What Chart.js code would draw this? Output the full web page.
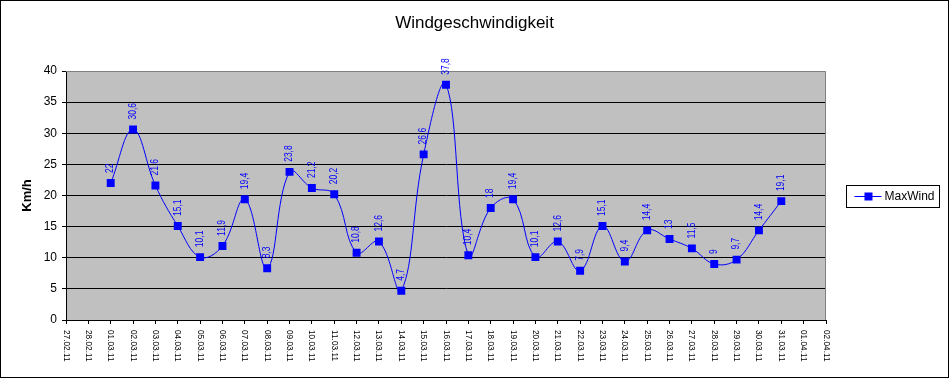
<!DOCTYPE html>
<html>
<head>
<meta charset="utf-8">
<script src="https://cdn.jsdelivr.net/npm/chart.js@4/dist/chart.umd.min.js"></script>
<style>
  html, body { margin: 0; padding: 0; background: #fff; }
  #windChart { display: block; }
</style>
</head>
<body>
<canvas id="windChart" width="949" height="378"></canvas>
<script>
// Data for the chart
const dates = ["27.02.11", "28.02.11",
  "01.03.11", "02.03.11", "03.03.11", "04.03.11", "05.03.11", "06.03.11", "07.03.11", "08.03.11",
  "09.03.11", "10.03.11", "11.03.11", "12.03.11", "13.03.11", "14.03.11", "15.03.11", "16.03.11",
  "17.03.11", "18.03.11", "19.03.11", "20.03.11", "21.03.11", "22.03.11", "23.03.11", "24.03.11",
  "25.03.11", "26.03.11", "27.03.11", "28.03.11", "29.03.11", "30.03.11", "31.03.11",
  "01.04.11", "02.04.11"];
const maxWind = [null, null,
  22, 30.6, 21.6, 15.1, 10.1, 11.9, 19.4, 8.3,
  23.8, 21.2, 20.2, 10.8, 12.6, 4.7, 26.6, 37.8,
  10.4, 18, 19.4, 10.1, 12.6, 7.9, 15.1, 9.4,
  14.4, 13, 11.5, 9, 9.7, 14.4, 19.1,
  null, null];
const yMin = 0, yMax = 40, yStep = 5;

const FONT = "Arial, 'Liberation Sans', sans-serif";
const BLUE = '#0000ff';

// background, plot border, rotated labels, legend
const chartDecor = {
  id: 'chartDecor',
  beforeDraw(chart) {
    const { ctx, chartArea: a } = chart;
    ctx.save();
    ctx.fillStyle = '#fff';
    ctx.fillRect(0, 0, chart.width, chart.height);
    ctx.fillStyle = '#c0c0c0';
    ctx.fillRect(a.left, a.top, a.right - a.left, a.bottom - a.top);
    ctx.restore();
  },
  beforeDatasetsDraw(chart) {
    const { ctx, chartArea: a } = chart;
    ctx.save();
    ctx.strokeStyle = '#808080';
    ctx.lineWidth = 1;
    ctx.beginPath();
    ctx.moveTo(a.left, a.top + 0.5);
    ctx.lineTo(a.right - 0.5, a.top + 0.5);
    ctx.lineTo(a.right - 0.5, a.bottom);
    ctx.stroke();
    ctx.restore();
  },
  afterDraw(chart) {
    const { ctx } = chart;
    const xs = chart.scales.x;
    ctx.save();

    // x tick labels, turned clockwise (a bit narrow like the original)
    ctx.fillStyle = '#000';
    ctx.font = '9px ' + FONT;
    ctx.textAlign = 'left';
    ctx.textBaseline = 'middle';
    dates.forEach((d, i) => {
      const x = xs.getPixelForTick(i);
      ctx.save();
      ctx.translate(x, xs.top + 10);
      ctx.rotate(Math.PI / 2);
      ctx.scale(0.92, 1);
      ctx.fillText(d, 0, 0);
      ctx.restore();
    });

    // value labels above the points
    const meta = chart.getDatasetMeta(0);
    ctx.fillStyle = BLUE;
    ctx.font = '10px ' + FONT;
    meta.data.forEach((pt, i) => {
      const v = maxWind[i];
      if (v === null || pt.skip) return;
      ctx.save();
      ctx.translate(pt.x, pt.y - 10);
      ctx.rotate(-Math.PI / 2);
      ctx.scale(0.85, 1);
      ctx.textAlign = 'left';
      ctx.textBaseline = 'middle';
      ctx.fillText(String(v).replace('.', ','), 0, 0);
      ctx.restore();
    });

    // legend box
    const lx = 846.5, ly = 185.5, lw = 93, lh = 22;
    ctx.fillStyle = '#fff';
    ctx.fillRect(lx, ly, lw, lh);
    ctx.strokeStyle = '#000';
    ctx.lineWidth = 1;
    ctx.strokeRect(lx, ly, lw, lh);
    const cy = ly + lh / 2;
    ctx.strokeStyle = BLUE;
    ctx.beginPath();
    ctx.moveTo(lx + 8, cy);
    ctx.lineTo(lx + 35, cy);
    ctx.stroke();
    ctx.fillStyle = BLUE;
    ctx.fillRect(lx + 18, cy - 4, 8, 8);
    ctx.fillStyle = '#000';
    ctx.font = '12px ' + FONT;
    ctx.textAlign = 'left';
    ctx.textBaseline = 'middle';
    ctx.fillText(chart.data.datasets[0].label, lx + 38, cy + 0.5);

    // outer frame
    ctx.strokeStyle = '#000';
    ctx.strokeRect(0.5, 0.5, chart.width - 1, chart.height - 1);
    ctx.restore();
  }
};

const config = {
  type: 'line',
  data: {
    labels: dates,
    datasets: [{
      label: 'MaxWind',
      data: maxWind,
      borderColor: BLUE,
      borderWidth: 1,
      backgroundColor: BLUE,
      pointStyle: 'rect',
      pointRadius: 5.6,
      pointHoverRadius: 5.6,
      pointBorderWidth: 0,
      tension: 0.4,
      spanGaps: false,
      fill: false
    }]
  },
  options: {
    responsive: false,
    devicePixelRatio: 1,
    animation: false,
    events: [],
    layout: { padding: 0 },
    plugins: {
      legend: { display: false },
      tooltip: { enabled: false },
      title: {
        display: true,
        text: 'Windgeschwindigkeit',
        color: '#000',
        font: { family: FONT, size: 17, weight: 'normal' },
        padding: { top: 13, bottom: 37.6 }
      }
    },
    scales: {
      x: {
        type: 'category',
        offset: false,
        grid: { drawOnChartArea: false, drawTicks: true, tickLength: 4, color: '#000' },
        border: { color: '#000', width: 1 },
        ticks: { display: false, autoSkip: false },
        afterFit: s => { s.height = 58; }
      },
      y: {
        min: yMin,
        max: yMax,
        ticks: {
          stepSize: yStep,
          color: '#000',
          padding: 5,
          font: { family: FONT, size: 12 }
        },
        grid: {
          color: c => (c.tick && c.tick.value === yMax ? 'rgba(0,0,0,0)' : '#000'),
          tickColor: '#000',
          tickLength: 4,
          lineWidth: 1
        },
        border: { color: '#000', width: 1 },
        title: {
          display: true,
          text: 'Km/h',
          color: '#000',
          font: { family: FONT, size: 13, weight: 'bold' },
          padding: { top: 20, bottom: 0 }
        },
        afterFit: s => { s.width = 66; }
      },
      yR: {
        position: 'right',
        display: true,
        ticks: { display: false },
        grid: { display: false },
        border: { display: false },
        afterFit: s => { s.width = 123; }
      }
    }
  },
  plugins: [chartDecor]
};

window.addEventListener('DOMContentLoaded', () => {
  const windChart = new Chart(document.getElementById('windChart'), config);
});
</script>
</body>
</html>
